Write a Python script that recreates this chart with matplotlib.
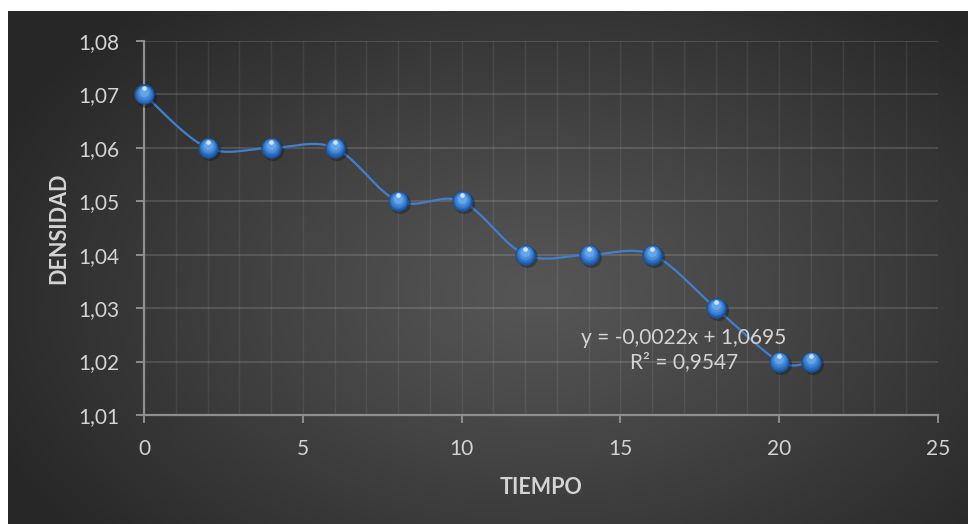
import numpy as np
import matplotlib
matplotlib.use("Agg")
import matplotlib.pyplot as plt
from matplotlib.ticker import MultipleLocator, FuncFormatter
from matplotlib.transforms import offset_copy

plt.rcParams['font.family'] = ['Lato', 'DejaVu Sans']

tiempo = [0, 2, 4, 6, 8, 10, 12, 14, 16, 18, 20, 21]
densidad = [1.07, 1.06, 1.06, 1.06, 1.05, 1.05, 1.04, 1.04, 1.04, 1.03, 1.02, 1.02]
x_label = "TIEMPO"
y_label = "DENSIDAD"
eq_text = "y = -0,0022x + 1,0695\nR² = 0,9547"

W, H = 968, 524
fig = plt.figure(figsize=(W / 100, H / 100), dpi=100)
fig.patch.set_facecolor('white')

# background panel with radial gradient
bg = fig.add_axes([8 / W, 0, (W - 8) / W, (H - 11) / H])
bg.set_axis_off()
ny, nx = 300, 560
yy, xx = np.mgrid[0:ny, 0:nx]
cx, cy = nx * 0.55, ny * 0.55
r = np.sqrt(((xx - cx) / (nx * 0.62)) ** 2 + ((yy - cy) / (ny * 0.75)) ** 2)
r = np.clip(r, 0, 1)
c_in, c_out = 0x56 / 255, 0x27 / 255
val = c_in + (c_out - c_in) * r ** 1.1
img = np.dstack([val, val, val])
bg.imshow(img, aspect='auto', extent=[0, 1, 0, 1], interpolation='bilinear')
bg.set_xlim(0, 1)
bg.set_ylim(0, 1)

x0, x1 = 144, 938
y_top, y_bot = 41, 415
ax = fig.add_axes([x0 / W, (H - y_bot) / H, (x1 - x0) / W, (y_bot - y_top) / H])
ax.set_facecolor('none')
ax.set_xlim(0, 25)
ax.set_ylim(1.01, 1.08)

ax.xaxis.set_major_locator(MultipleLocator(5))
ax.xaxis.set_minor_locator(MultipleLocator(1))
ax.yaxis.set_major_locator(MultipleLocator(0.01))
ax.yaxis.set_major_formatter(FuncFormatter(lambda v, p: f"{v:.2f}".replace('.', ',')))
ax.xaxis.set_major_formatter(FuncFormatter(lambda v, p: f"{v:.0f}"))

ax.grid(True, axis='y', which='major', color='white', alpha=0.14, lw=1.3, zorder=0)
ax.grid(True, axis='x', which='both', color='white', alpha=0.08, lw=1.0, zorder=0)

spine_c = '#8e8e8e'
for s in ['top', 'right']:
    ax.spines[s].set_visible(False)
for s in ['left', 'bottom']:
    ax.spines[s].set_color(spine_c)
    ax.spines[s].set_linewidth(1.6)

ax.tick_params(axis='both', which='major', direction='out', length=6, width=1.4,
               color=spine_c, labelcolor='#d4d4d4', labelsize=15)
ax.tick_params(axis='x', which='minor', length=0)
ax.tick_params(axis='x', pad=11)
ax.tick_params(axis='y', pad=12)

# smooth curve (Catmull-Rom / Bezier as in spreadsheet smoothing)
px = np.array(tiempo, float)
py = np.array(densidad, float)
sx, sy = 1 / 25 * 794, 1 / 0.07 * 374  # scale to screen for tangents
Px, Py = px * sx, py * sy
cxs, cys = [], []
n = len(Px)
for i in range(n - 1):
    p0 = (Px[i - 1], Py[i - 1]) if i > 0 else (Px[i], Py[i])
    p1 = (Px[i], Py[i])
    p2 = (Px[i + 1], Py[i + 1])
    p3 = (Px[i + 2], Py[i + 2]) if i + 2 < n else (Px[i + 1], Py[i + 1])
    c1 = (p1[0] + (p2[0] - p0[0]) / 6, p1[1] + (p2[1] - p0[1]) / 6)
    c2 = (p2[0] - (p3[0] - p1[0]) / 6, p2[1] - (p3[1] - p1[1]) / 6)
    t = np.linspace(0, 1, 40)
    bx = (1 - t) ** 3 * p1[0] + 3 * (1 - t) ** 2 * t * c1[0] + 3 * (1 - t) * t ** 2 * c2[0] + t ** 3 * p2[0]
    by = (1 - t) ** 3 * p1[1] + 3 * (1 - t) ** 2 * t * c1[1] + 3 * (1 - t) * t ** 2 * c2[1] + t ** 3 * p2[1]
    cxs.append(bx / sx)
    cys.append(by / sy)
ax.plot(np.concatenate(cxs), np.concatenate(cys), color='#3f7fcf', lw=1.6, zorder=3,
        solid_capstyle='round', clip_on=False)

# sphere markers
ax.scatter(tiempo, densidad, s=230, color='#111111', alpha=0.35, zorder=4, lw=0,
           transform=offset_copy(ax.transData, fig=fig, x=1.5, y=-1.5, units='points'), clip_on=False)
ax.scatter(tiempo, densidad, s=200, color='#1f5aa6', edgecolor='#1b4c8c', lw=0.6, zorder=5, clip_on=False)
layers = [(155, '#2c6cbd', 0.6), (115, '#3a7fd0', 1.1), (78, '#4b90dd', 1.5), (42, '#66a6e8', 2.0)]
for s_, col, dy in layers:
    ax.scatter(tiempo, densidad, s=s_, color=col, lw=0, zorder=6, clip_on=False,
               transform=offset_copy(ax.transData, fig=fig, x=0, y=dy, units='points'))
ax.scatter(tiempo, densidad, s=11, color='#d8ecff', lw=0, zorder=7, alpha=0.9, clip_on=False,
           transform=offset_copy(ax.transData, fig=fig, x=0, y=4.3, units='points'))

ax.text(17.0, 1.0221, eq_text, ha='center', va='center', multialignment='center',
        color='#d4d4d4', fontsize=15, linespacing=1.25, zorder=8)

ax.set_xlabel(x_label, color='#d4d4d4', fontsize=15.5, fontweight='bold', labelpad=13)
ax.set_ylabel(y_label, color='#d4d4d4', fontsize=15.5, fontweight='bold', labelpad=6)

fig.savefig('out.png', dpi=100, facecolor=fig.get_facecolor())
